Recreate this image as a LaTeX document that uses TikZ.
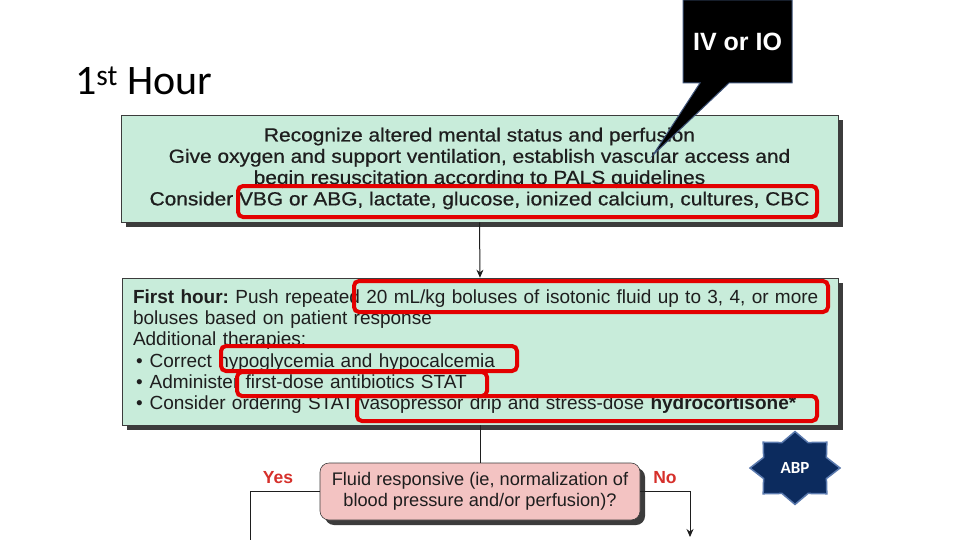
\documentclass[tikz,border=0pt]{standalone}
\usepackage{fontspec}
\setmainfont{Liberation Sans}
\newfontfamily\calibri{Carlito}
\newfontfamily\wideface{Liberation Sans}[FakeStretch=1.1, FakeBold=0.6]
\usetikzlibrary{shapes.geometric,shadows,arrows.meta}
\frenchspacing
\newcommand{\bulletitem}{\hspace*{3pt}\textbullet\hspace{7pt}}

\definecolor{boxgreen}{HTML}{C8ECDA}
\definecolor{boxpink}{HTML}{F3C3C2}
\definecolor{markred}{HTML}{E30000}
\definecolor{answerred}{HTML}{D6302B}
\definecolor{shadegray}{HTML}{3C3C3C}
\definecolor{textgray}{HTML}{1E1E1E}
\definecolor{starblue}{HTML}{0C2B5E}
\definecolor{rimblue}{HTML}{5B7AAE}

\tikzset{
  stepbox/.style={draw=shadegray, line width=0.6pt, text=textgray,
    drop shadow={shadow xshift=5pt, shadow yshift=-5pt, fill=shadegray, opacity=1},
    font=\fontsize{19}{21.3}\selectfont, inner sep=0pt},
  hilite/.style={draw=markred, line width=4pt, rounded corners=5pt},
  flow/.style={draw=textgray, line width=1pt},
  answer/.style={font=\bfseries\fontsize{17.5}{17.5}\selectfont, text=answerred},
}

\begin{document}
\begin{tikzpicture}[x=1pt, y=-1pt]
  \useasboundingbox (0,0) rectangle (960,540);
  \fill[white] (0,0) rectangle (960,540);

  % title
  \node[anchor=base west, inner sep=0pt, font=\calibri\fontsize{42}{42}\selectfont] (title) at (75,95) {1\textsuperscript{st} Hour};

  % first box
  \node[stepbox, fill=boxgreen, minimum width=717pt, minimum height=107pt, align=center,
        font=\wideface\fontsize{19}{21.3}\selectfont] (recog) at (479.5,168.5)
    {Recognize altered mental status and perfusion\\
     Give oxygen and support ventilation, establish vascular access and\\
     begin resuscitation according to PALS guidelines\\
     Consider VBG or ABG, lactate, glucose, ionized calcium, cultures, CBC};

  % second box
  \node[stepbox, fill=boxgreen, minimum width=716pt, minimum height=147pt, text width=694pt, align=left] (fluid) at (480,351.5)
    {\textbf{First hour:} Push repeated 20 mL/kg boluses of isotonic fluid up to 3, 4, or more\\
     boluses based on patient response\\
     Additional therapies:\\
     \bulletitem Correct hypoglycemia and hypocalcemia\\
     \bulletitem Administer first-dose antibiotics STAT\\
     \bulletitem Consider ordering STAT vasopressor drip and stress-dose \textbf{hydrocortisone*}};

  % decision
  \node[stepbox, fill=boxpink, rounded corners=9pt, minimum width=320pt, minimum height=57pt, align=center,
        font=\fontsize{18.2}{21.5}\selectfont] (resp) at (480,491.5)
    {Fluid responsive (ie, normalization of\\ blood pressure and/or perfusion)?};

  \node[answer] (yes) at (278,478) {Yes};
  \node[answer] (no) at (665,478) {No};

  % connectors
  \coordinate (yesEnd) at (250,545);
  \coordinate (noEnd) at (690,537);
  \draw[flow, -{Stealth[length=8pt, width=7pt]}] (recog.south) -- (fluid.north);
  \draw[flow] (fluid.south) -- (resp.north);
  \draw[flow] (resp.west) -| (yesEnd);
  \draw[flow, -{Stealth[length=8pt, width=7pt]}] (resp.east) -| (noEnd);

  % red highlights
  \draw[hilite] (238,186) rectangle (817,217);
  \draw[hilite] (354,281) rectangle (828,312);
  \draw[hilite] (221,346) rectangle (517,371);
  \draw[hilite] (237,372) rectangle (487,396);
  \draw[hilite] (357,396) rectangle (817,421);

  % callout
  \coordinate (tip) at (653,155);
  \draw[fill=black, draw=rimblue!70!black, line width=1pt]
    (683,0) -- (792,0) -- (792,83) -- (729,83) -- (tip) -- (700,83) -- (683,83) -- cycle;
  \node[text=white, font=\bfseries\fontsize{25}{25}\selectfont] (iv) at (737.5,42) {IV or IO};

  % ABP badge
  \filldraw[fill=starblue, draw=rimblue, line width=1.5pt]
    plot[samples at={0,...,15}, variable=\k] ({795+(39.5+5.5*cos(\k*180))*cos(\k*22.5)}, {468-0.81*(39.5+5.5*cos(\k*180))*sin(\k*22.5)}) -- cycle;
  \node[text=white, font=\calibri\bfseries\fontsize{17}{17}\selectfont] (abp) at (795,468) {ABP};
\end{tikzpicture}
\end{document}
